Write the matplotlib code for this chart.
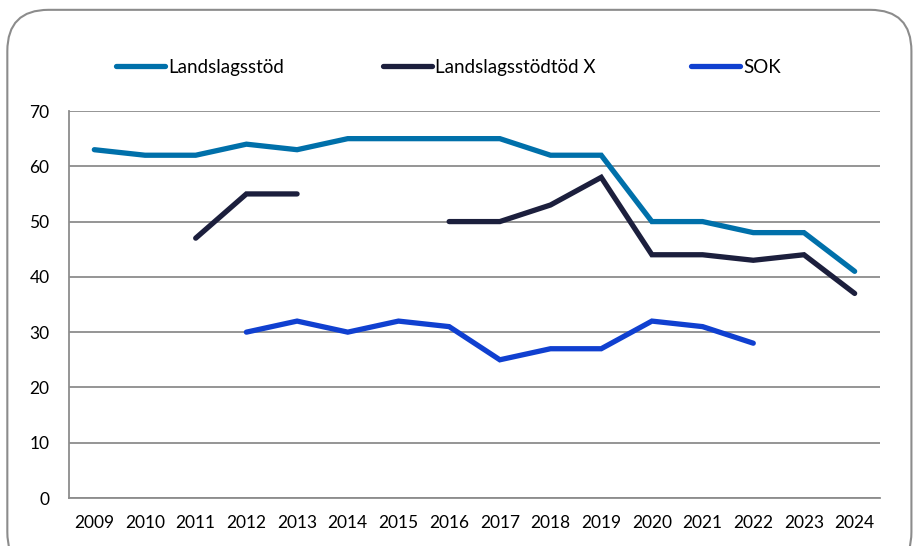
import numpy as np
import matplotlib.pyplot as plt
from matplotlib.patches import FancyBboxPatch
from matplotlib.lines import Line2D

years = ['2009', '2010', '2011', '2012', '2013', '2014', '2015', '2016',
         '2017', '2018', '2019', '2020', '2021', '2022', '2023', '2024']
nan = np.nan
landslagsstod = [63, 62, 62, 64, 63, 65, 65, 65, 65, 62, 62, 50, 50, 48, 48, 41]
landslagsstod_x = [nan, nan, 47, 55, 55, nan, nan, 50, 50, 53, 58, 44, 44, 43, 44, 37]
sok = [nan, nan, nan, 30, 32, 30, 32, 31, 25, 27, 27, 32, 31, 28, nan, nan]

series = [
    ('Landslagsstöd', landslagsstod, '#0070AA'),
    ('Landslagsstödtöd X', landslagsstod_x, '#1C1F3D'),
    ('SOK', sok, '#1040D0'),
]

plt.rcParams['font.family'] = ['Lato', 'DejaVu Sans']

fig = plt.figure(figsize=(9.16, 5.46), dpi=100)
ax = fig.add_axes([0.0753, 0.0879, 0.8854, 0.7088])

# rounded chart frame
frame = FancyBboxPatch((0.008, -0.05), 0.987, 1.032, transform=fig.transFigure,
                       boxstyle='round,pad=0,rounding_size=0.045',
                       facecolor='none', edgecolor='#8c8c8c', linewidth=1.5,
                       mutation_aspect=916 / 546)
fig.patches.append(frame)

x = np.arange(len(years))
for name, vals, col in series:
    ax.plot(x, vals, color=col, linewidth=3.8, solid_capstyle='round',
            solid_joinstyle='miter', label=name)

ax.set_xlim(-0.5, len(years) - 0.5)
ax.set_ylim(0, 70)
ax.set_yticks(range(0, 71, 10))
ax.set_xticks(x)
ax.set_xticklabels(years)
ax.tick_params(length=0, labelsize=12.5, colors='#000000')
ax.tick_params(axis='x', pad=12)
ax.tick_params(axis='y', pad=14)
ax.grid(axis='y', color='#8c8c8c', linewidth=1.3)
ax.set_axisbelow(True)
for s in ['top', 'right']:
    ax.spines[s].set_visible(False)
for s in ['left', 'bottom']:
    ax.spines[s].set_color('#8c8c8c')
    ax.spines[s].set_linewidth(1.3)

# legend entries placed one by one (handle start x in figure fraction)
legend_x = [0.1266, 0.418, 0.7544]
for (name, _, col), lx in zip(series, legend_x):
    h = Line2D([], [], color=col, linewidth=3.8, solid_capstyle='round')
    fig.legend([h], [name], loc='center left', bbox_to_anchor=(lx, 0.877),
               frameon=False, handlelength=2.6, handletextpad=0.2,
               borderpad=0, borderaxespad=0, fontsize=13.5)

fig.savefig('out.png', dpi=100)
